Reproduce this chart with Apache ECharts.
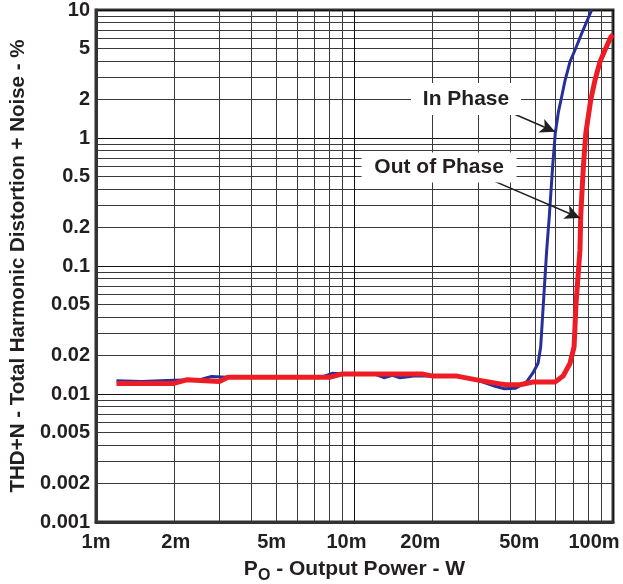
<!DOCTYPE html>
<html>
<head>
<meta charset="utf-8">
<title>THD+N vs Output Power</title>
<script src="https://cdn.jsdelivr.net/npm/echarts@6.0.0/dist/echarts.min.js"></script>
<style>
  html, body { margin: 0; padding: 0; background: #fff; }
  #chart { width: 623px; height: 584px; }
</style>
</head>
<body>
<div id="chart"></div>
<script>
// axis ticks
const xTicks = [0.001, 0.002, 0.005, 0.01, 0.02, 0.05, 0.1];
const xTickLabels = ['1m', '2m', '5m', '10m', '20m', '50m', '100m'];
const yTicks = [0.001, 0.002, 0.005, 0.01, 0.02, 0.05, 0.1, 0.2, 0.5, 1, 2, 5, 10];
const yTickLabels = ['0.001', '0.002', '0.005', '0.01', '0.02', '0.05', '0.1', '0.2', '0.5', '1', '2', '5', '10'];

// In Phase (W, %)
const inPhaseP = [0.0012, 0.0015, 0.002, 0.0025, 0.0028, 0.0032, 0.005, 0.0075, 0.0082, 0.009,
  0.012, 0.013, 0.014, 0.015, 0.017, 0.02, 0.025, 0.03, 0.035, 0.038, 0.042, 0.0464, 0.049,
  0.0513, 0.0525, 0.053, 0.0554, 0.0567, 0.0584, 0.0598, 0.0615, 0.0633, 0.0652, 0.0682,
  0.0713, 0.0757, 0.0827];
const inPhaseThd = [0.0127, 0.0125, 0.0128, 0.0129, 0.0137, 0.0135, 0.0135, 0.0136, 0.0145, 0.0143,
  0.0143, 0.0134, 0.0140, 0.0134, 0.0138, 0.0138, 0.0137, 0.0128, 0.0115, 0.0110, 0.0111, 0.0125,
  0.0146, 0.0174, 0.0233, 0.0316, 0.133, 0.244, 0.595, 1.09, 1.6, 2.1, 2.8, 3.95, 4.87, 6.58, 10];

// Out of Phase (W, %)
const outPhaseP = [0.0012, 0.002, 0.00224, 0.003, 0.00324, 0.008, 0.0089, 0.0184, 0.0201, 0.0249,
  0.0297, 0.0366, 0.0386, 0.0437, 0.049, 0.0597, 0.0641, 0.0682, 0.0707, 0.0719, 0.0745, 0.075,
  0.0768, 0.0785, 0.082, 0.0852, 0.0891, 0.0931, 0.0982, 0.1];
const outPhaseThd = [0.0121, 0.0121, 0.0129, 0.0125, 0.0135, 0.0135, 0.0143, 0.0143, 0.0138, 0.0138,
  0.0129, 0.0120, 0.0118, 0.0118, 0.0124, 0.0124, 0.0138, 0.0174, 0.0233, 0.05, 0.133, 0.244,
  0.595, 1.09, 1.98, 2.84, 3.95, 4.87, 6.18, 6.4];

const TEXT = '#231f20';
const FONT = '"Liberation Sans", Arial, sans-serif';

// labels in the original sit a bit left of their grid lines
const xLabelShift = [0, -2, 5, 8, 12, 16, 19];

const findTick = (ticks, v) => ticks.findIndex(t => Math.abs(Math.log10(v / t)) < 1e-6);

const xRich = {};
xLabelShift.forEach((s, i) => {
  xRich['s' + i] = {
    fontSize: 20, fontWeight: 'bold', color: TEXT, fontFamily: FONT,
    padding: s > 0 ? [0, 2 * s, 0, 0] : [0, 0, 0, -2 * s]
  };
});

const annoLabel = { show: true, position: 'inside', fontSize: 21, fontWeight: 'bold', color: TEXT, fontFamily: FONT };
const arrowLine = { color: TEXT, width: 1.5, type: 'solid' };

const chart = echarts.init(document.getElementById('chart'));

chart.setOption({
  animation: false,
  backgroundColor: '#fff',
  grid: {
    left: 96, right: 10, top: 10, bottom: 62,
    outerBoundsMode: 'none',
    containLabel: false,
    show: true, borderColor: '#333', borderWidth: 3, backgroundColor: 'transparent'
  },
  xAxis: {
    type: 'log',
    logBase: 10,
    min: 0.001,
    max: 0.1,
    name: '{a|P}{sub|O}{a| - Output Power - W}',
    nameLocation: 'middle',
    nameGap: 33,
    nameTextStyle: {
      rich: {
        a: { fontSize: 21, fontWeight: 'bold', color: TEXT, fontFamily: FONT },
        sub: { fontSize: 16, fontWeight: 'bold', color: TEXT, fontFamily: FONT, padding: [13, 0, 0, 0] }
      }
    },
    axisLine: { show: true, lineStyle: { color: '#333', width: 3 } },
    axisTick: { show: false },
    axisLabel: {
      customValues: xTicks,
      margin: 10,
      formatter: v => {
        const i = findTick(xTicks, v);
        return i < 0 ? '' : '{s' + i + '|' + xTickLabels[i] + '}';
      },
      rich: xRich
    },
    splitLine: { show: true, lineStyle: { color: '#111', width: 1 } },
    minorTick: { show: false, splitNumber: 9 },
    minorSplitLine: { show: true, lineStyle: { color: '#3a3a3a', width: 1 } }
  },
  yAxis: {
    type: 'log',
    logBase: 10,
    min: 0.001,
    max: 10,
    name: 'THD+N - Total Harmonic Distortion + Noise - %',
    nameLocation: 'middle',
    nameGap: 67,
    nameTextStyle: { fontSize: 20.5, fontWeight: 'bold', color: TEXT, fontFamily: FONT },
    axisLine: { show: true, lineStyle: { color: '#333', width: 3 } },
    axisTick: { show: false },
    axisLabel: {
      customValues: yTicks,
      margin: 6,
      fontSize: 20, fontWeight: 'bold', color: TEXT, fontFamily: FONT,
      formatter: v => {
        const i = findTick(yTicks, v);
        return i < 0 ? '' : yTickLabels[i];
      }
    },
    splitLine: { show: true, lineStyle: { color: '#111', width: 1 } },
    minorTick: { show: false, splitNumber: 9 },
    minorSplitLine: { show: true, lineStyle: { color: '#3a3a3a', width: 1 } }
  },
  series: [
    {
      name: 'In Phase',
      type: 'line',
      data: inPhaseP.map((p, i) => [p, inPhaseThd[i]]),
      showSymbol: false,
      lineStyle: { color: '#26309a', width: 3, join: 'round' },
      z: 3,
      markPoint: {
        silent: true,
        symbol: 'rect',
        symbolSize: [110, 32],
        itemStyle: { color: '#fff' },
        label: annoLabel,
        data: [{ coord: [0.027, 2.02], value: 'In Phase', label: { formatter: 'In Phase' } }]
      },
      markLine: {
        silent: true,
        symbolSize: [11, 15],
        lineStyle: arrowLine,
        label: { show: false },
        data: [[{ coord: [0.0382, 1.655], symbol: 'none' }, { coord: [0.0597, 1.12], symbol: 'arrow' }]]
      }
    },
    {
      name: 'Out of Phase',
      type: 'line',
      data: outPhaseP.map((p, i) => [p, outPhaseThd[i]]),
      showSymbol: false,
      lineStyle: { color: '#ee1c25', width: 5, join: 'round' },
      z: 4,
      markPoint: {
        silent: true,
        symbol: 'rect',
        symbolSize: [155, 30],
        itemStyle: { color: '#fff' },
        label: annoLabel,
        data: [{ coord: [0.02124, 0.588], value: 'Out of Phase', label: { formatter: 'Out of Phase' } }]
      },
      markLine: {
        silent: true,
        symbolSize: [11, 15],
        lineStyle: arrowLine,
        label: { show: false },
        data: [[{ coord: [0.0331, 0.479], symbol: 'none' }, { coord: [0.0745, 0.237], symbol: 'arrow' }]]
      }
    }
  ]
});
</script>
</body>
</html>
